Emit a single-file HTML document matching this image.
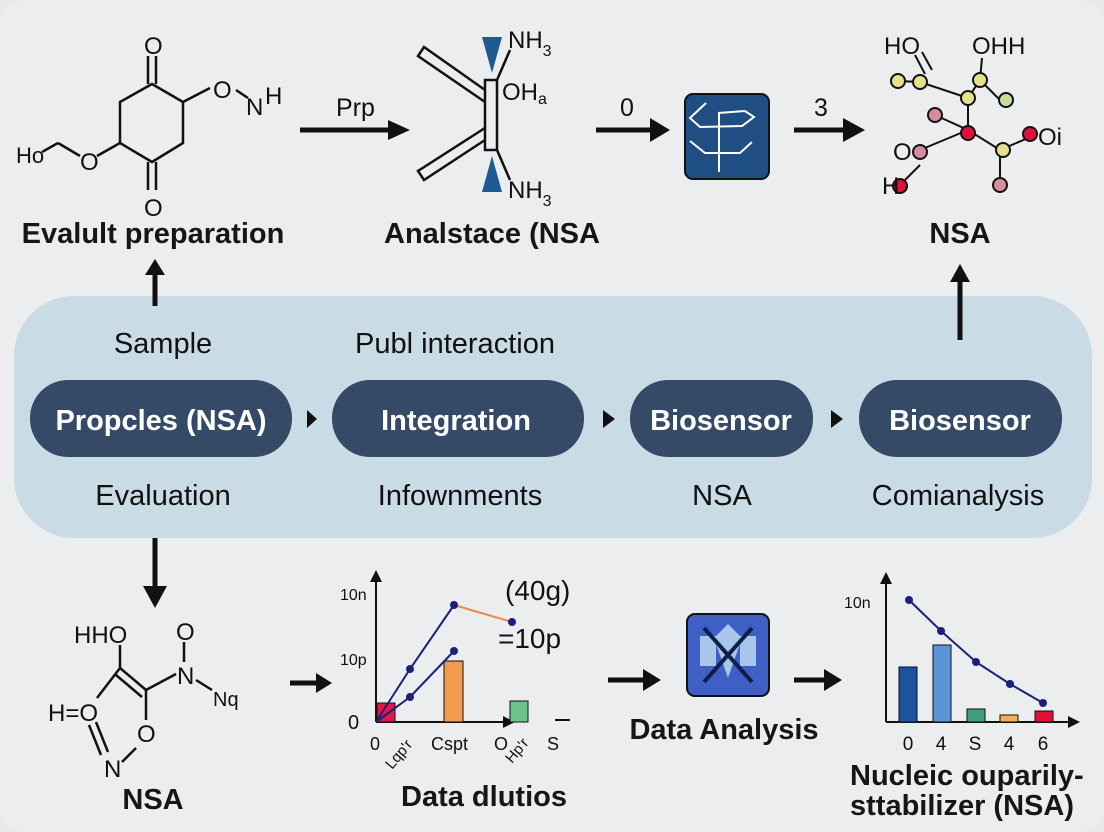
<!DOCTYPE html>
<html><head><meta charset="utf-8"><style>
html,body{margin:0;padding:0;background:#e9eaec}
svg{display:block}
text{font-family:"Liberation Sans",sans-serif;fill:#111}
.lb{font-size:29px;font-weight:bold;fill:#161616}
</style></head><body>
<svg width="1104" height="832" viewBox="0 0 1104 832" xmlns="http://www.w3.org/2000/svg">
<rect x="0" y="0" width="1104" height="832" rx="24" fill="#ecedef"/>
<!-- band -->
<rect x="14" y="296" width="1078" height="242" rx="60" fill="#c9dbe4"/>
<g font-size="29">
<text x="163" y="353" text-anchor="middle">Sample</text>
<text x="455" y="353" text-anchor="middle">Publ interaction</text>
<text x="163" y="505" text-anchor="middle">Evaluation</text>
<text x="460" y="505" text-anchor="middle">Infownments</text>
<text x="722" y="505" text-anchor="middle">NSA</text>
<text x="958" y="505" text-anchor="middle">Comianalysis</text>
</g>
<g fill="#344a66">
<rect x="30" y="380" width="262" height="77" rx="38"/>
<rect x="332" y="380" width="252" height="77" rx="38"/>
<rect x="630" y="380" width="183" height="77" rx="38"/>
<rect x="859" y="380" width="203" height="77" rx="38"/>
</g>
<g fill="#111"><path d="M307,410l10,9l-10,9z"/><path d="M603,410l12,9l-12,9z"/><path d="M831,410l12,9l-12,9z"/></g>
<g font-size="29" font-weight="bold" text-anchor="middle">
<text x="161" y="430" style="fill:#fff">Propcles (NSA)</text>
<text x="456" y="430" style="fill:#fff">Integration</text>
<text x="721" y="430" style="fill:#fff">Biosensor</text>
<text x="960" y="430" style="fill:#fff">Biosensor</text>
</g>
<!-- vertical arrows -->
<g stroke="#111" stroke-width="5" fill="none">
<line x1="155" y1="306" x2="155" y2="270"/>
<line x1="960" y1="340" x2="960" y2="280"/>
<line x1="155" y1="538" x2="155" y2="588"/>
</g>
<g fill="#111">
<path d="M145,275l10,-16l10,16z"/><path d="M950,282l10,-18l10,18z"/><path d="M143,586l12,22l12,-22z"/>
</g>
<!-- top left molecule -->
<g stroke="#111" stroke-width="2.5" fill="none">
<path d="M152,84L183,102L183,143L152,162L120,143L120,102Z"/>
<line x1="148" y1="84" x2="148" y2="56"/><line x1="156" y1="84" x2="156" y2="56"/>
<line x1="148" y1="162" x2="148" y2="190"/><line x1="156" y1="162" x2="156" y2="190"/>
<line x1="183" y1="102" x2="210" y2="88"/><line x1="236" y1="90" x2="248" y2="98"/>
<line x1="120" y1="143" x2="97" y2="156"/><line x1="80" y1="156" x2="58" y2="143"/><line x1="58" y1="143" x2="42" y2="152"/>
</g>
<g font-size="24">
<text x="144" y="54">O</text><text x="144" y="216">O</text>
<text x="213" y="98">O</text><text x="246" y="115">N</text><text x="265" y="104">H</text>
<text x="80" y="170">O</text><text x="16" y="163" font-size="22">Ho</text>
</g>
<text x="153" y="243" class="lb" text-anchor="middle">Evalult preparation</text>
<!-- Prp arrow -->
<text x="336" y="116" font-size="25">Prp</text>
<line x1="300" y1="130" x2="390" y2="130" stroke="#111" stroke-width="5"/><path d="M388,120l22,10l-22,10z" fill="#111"/>
<!-- molecule 2 -->
<g stroke="#111" stroke-width="2.5" fill="none">
<rect x="485" y="80" width="12" height="70"/>
<path d="M485,90L424,47L418,56L485,102"/><path d="M485,140L424,180L418,171L485,128"/>
<line x1="497" y1="80" x2="510" y2="50"/><line x1="497" y1="150" x2="510" y2="180"/>
</g>
<path d="M482,37h20l-10,36z" fill="#1f5a94"/><path d="M482,192h20l-10,-36z" fill="#1f5a94"/>
<g font-size="24"><text x="508" y="48">NH<tspan font-size="16" dy="8">3</tspan></text><text x="502" y="100">OH<tspan font-size="16" dy="4">a</tspan></text><text x="508" y="198">NH<tspan font-size="16" dy="8">3</tspan></text></g>
<text x="492" y="243" class="lb" text-anchor="middle">Analstace (NSA</text>
<!-- 0 arrow -->
<text x="620" y="116" font-size="25">0</text>
<line x1="596" y1="130" x2="652" y2="130" stroke="#111" stroke-width="5"/><path d="M650,118l20,12l-20,12z" fill="#111"/>
<rect x="685" y="94" width="84" height="85" rx="8" fill="#1f4e82" stroke="#111" stroke-width="2"/>
<g stroke="#fff" stroke-width="2" fill="none"><path d="M706,103L690,118L700,127L742,126L754,117L745,111L718,113"/><path d="M690,141L705,153L740,153L752,142"/><line x1="719" y1="113" x2="719" y2="172"/></g>
<!-- 3 arrow -->
<text x="814" y="116" font-size="25">3</text>
<line x1="794" y1="130" x2="845" y2="130" stroke="#111" stroke-width="5"/><path d="M843,118l22,12l-22,12z" fill="#111"/>
<!-- molecule 3 -->
<g stroke="#111" stroke-width="2" fill="none">
<path d="M898,81L920,82L968,98L980,80L1000,100M968,98L968,130L1000,150L1028,138M968,130L920,150M968,130L935,115M1000,150L1000,185M925,74L915,55M932,70L922,52M980,80L982,58M920,165L900,185"/>
</g>
<g stroke="#111" stroke-width="2">
<circle cx="898" cy="81" r="7" fill="#e6e08a"/><circle cx="920" cy="82" r="7" fill="#e6e08a"/><circle cx="968" cy="98" r="7" fill="#e6e08a"/><circle cx="980" cy="80" r="7" fill="#e6e08a"/>
<circle cx="1006" cy="100" r="7" fill="#c8db9a"/><circle cx="935" cy="115" r="7" fill="#d98b9e"/><circle cx="968" cy="133" r="7" fill="#e0103a"/>
<circle cx="1003" cy="150" r="7" fill="#e6e08a"/><circle cx="1030" cy="134" r="7" fill="#e0103a"/><circle cx="920" cy="152" r="7" fill="#d98b9e"/>
<circle cx="1000" cy="185" r="7" fill="#d98b9e"/><circle cx="900" cy="186" r="7" fill="#e0103a"/>
</g>
<g font-size="24"><text x="884" y="54">HO</text><text x="972" y="54">OHH</text><text x="1038" y="145">Oi</text><text x="882" y="194">H</text><text x="893" y="160">O</text></g>
<text x="960" y="243" class="lb" text-anchor="middle">NSA</text>
<!-- bottom left molecule -->
<g stroke="#111" stroke-width="2.5" fill="none">
<line x1="120" y1="645" x2="120" y2="668"/>
<line x1="120" y1="668" x2="146" y2="690"/><line x1="116" y1="675" x2="142" y2="697"/>
<line x1="120" y1="668" x2="97" y2="698"/>
<line x1="96" y1="722" x2="108" y2="752"/><line x1="89" y1="725" x2="101" y2="755"/>
<line x1="122" y1="762" x2="136" y2="748"/>
<line x1="146" y1="690" x2="146" y2="720"/>
<line x1="146" y1="690" x2="176" y2="674"/><line x1="184" y1="642" x2="184" y2="662"/><line x1="196" y1="680" x2="212" y2="690"/>
</g>
<g font-size="24"><text x="74" y="643">HHO</text><text x="176" y="640">O</text><text x="177" y="684">N</text><text x="213" y="706" font-size="20">Nq</text><text x="48" y="721">H=O</text><text x="104" y="777">N</text><text x="137" y="742">O</text></g>
<text x="153" y="809" class="lb" text-anchor="middle">NSA</text>
<line x1="290" y1="683" x2="318" y2="683" stroke="#111" stroke-width="5"/><path d="M316,673l16,10l-16,10z" fill="#111"/>
<!-- chart 1 -->
<g stroke="#111" stroke-width="2" fill="none"><line x1="376" y1="722" x2="376" y2="580"/><line x1="376" y1="722" x2="505" y2="722"/></g>
<path d="M370,582l6,-12l6,12z M503,716l12,6l-12,6z" fill="#111"/>
<rect x="377" y="703" width="18" height="19" fill="#e0194a" stroke="#111"/>
<rect x="444" y="661" width="19" height="61" fill="#f39a4e" stroke="#111"/>
<rect x="510" y="701" width="18" height="21" fill="#6cc28a" stroke="#111"/>
<line x1="555" y1="720" x2="570" y2="720" stroke="#111" stroke-width="2"/>
<g stroke="#1b1f7a" stroke-width="2" fill="none"><path d="M376,722L410,669L454,605"/><path d="M376,722L410,697L454,651"/></g>
<line x1="454" y1="605" x2="512" y2="622" stroke="#e8884a" stroke-width="2"/>
<g fill="#1b1f7a"><circle cx="410" cy="669" r="4"/><circle cx="454" cy="605" r="4"/><circle cx="410" cy="697" r="4"/><circle cx="454" cy="651" r="4"/><circle cx="512" cy="622" r="4"/></g>
<g font-size="16"><text x="340" y="600">10n</text><text x="340" y="665">10p</text><text x="348" y="729" font-size="20">0</text></g>
<g font-size="18"><text x="370" y="750">0</text><text x="431" y="750">Cspt</text><text x="494" y="750">O</text><text x="547" y="750">S</text>
<text x="0" y="0" transform="translate(392,770) rotate(-50)" font-size="15">Lqp'r</text><text x="0" y="0" transform="translate(512,764) rotate(-50)" font-size="15">Hp'r</text></g>
<text x="505" y="600" font-size="28">(40g)</text><text x="498" y="648" font-size="28">=10p</text>
<text x="484" y="806" class="lb" text-anchor="middle">Data dlutios</text>
<!-- arrows to data analysis -->
<line x1="608" y1="680" x2="645" y2="680" stroke="#111" stroke-width="5"/><path d="M643,669l18,11l-18,11z" fill="#111"/>
<rect x="687" y="614" width="82" height="82" rx="8" fill="#3f5fc5" stroke="#111" stroke-width="2"/>
<g fill="#a8c6ea"><path d="M728,624l14,14l-14,40l-14,-40z"/><path d="M700,636h16v30h-16z"/><path d="M740,636h16v30h-16z"/></g>
<g stroke="#0f1e4a" stroke-width="4"><line x1="704" y1="628" x2="752" y2="682"/><line x1="752" y1="628" x2="704" y2="682"/></g>
<text x="724" y="739" class="lb" text-anchor="middle">Data Analysis</text>
<line x1="794" y1="680" x2="826" y2="680" stroke="#111" stroke-width="5"/><path d="M824,669l18,11l-18,11z" fill="#111"/>
<!-- chart 2 -->
<g stroke="#111" stroke-width="2" fill="none"><line x1="886" y1="722" x2="886" y2="582"/><line x1="886" y1="722" x2="1070" y2="722"/></g>
<path d="M880,584l6,-12l6,12z M1068,716l12,6l-12,6z" fill="#111"/>
<rect x="899" y="667" width="18" height="55" fill="#1c54a0" stroke="#111"/>
<rect x="933" y="645" width="18" height="77" fill="#5d94d8" stroke="#111"/>
<rect x="967" y="709" width="18" height="13" fill="#3f9e7a" stroke="#111"/>
<rect x="1000" y="715" width="18" height="7" fill="#f0b050" stroke="#111"/>
<rect x="1035" y="711" width="18" height="11" fill="#e0103a" stroke="#111"/>
<path d="M909,600L941,631L976,662L1010,684L1043,703" stroke="#1b1f7a" stroke-width="2" fill="none"/>
<g fill="#1b1f7a"><circle cx="909" cy="600" r="4"/><circle cx="941" cy="631" r="4"/><circle cx="976" cy="662" r="4"/><circle cx="1010" cy="684" r="4"/><circle cx="1043" cy="703" r="4"/></g>
<text x="844" y="608" font-size="16">10n</text>
<g font-size="19" text-anchor="middle"><text x="908" y="750">0</text><text x="941" y="750">4</text><text x="975" y="750">S</text><text x="1009" y="750">4</text><text x="1043" y="750">6</text></g>
<text x="850" y="785" class="lb" font-size="27">Nucleic ouparily-</text>
<text x="850" y="815" class="lb" font-size="27">sttabilizer (NSA)</text>
</svg>
</body></html>
